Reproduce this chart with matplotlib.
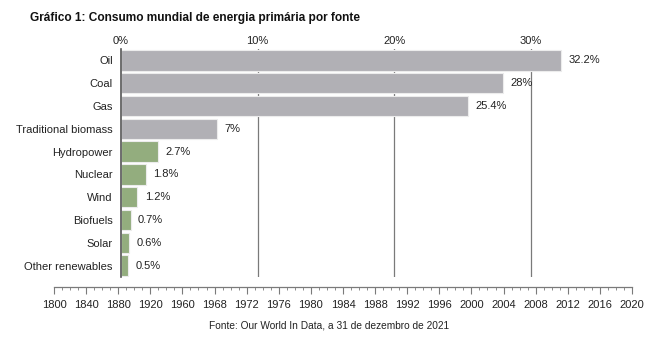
import numpy as np
import matplotlib
matplotlib.use("Agg")
import matplotlib.pyplot as plt

plt.rcParams['font.family'] = ['Liberation Sans', 'DejaVu Sans']

# share of world primary energy, %
sources = ["Oil", "Coal", "Gas", "Traditional biomass", "Hydropower",
           "Nuclear", "Wind", "Biofuels", "Solar", "Other renewables"]
shares = [32.2, 28, 25.4, 7, 2.7, 1.8, 1.2, 0.7, 0.6, 0.5]
labels = ["32.2%", "28%", "25.4%", "7%", "2.7%", "1.8%", "1.2%", "0.7%", "0.6%", "0.5%"]
renewable = [False, False, False, False, True, True, True, True, True, True]

years = [1800, 1840, 1880, 1920, 1960, 1968, 1972, 1976, 1980, 1984,
         1988, 1992, 1996, 2000, 2004, 2008, 2012, 2016, 2020]

grey = "#b1b0b5"
green = "#93ad7e"
line_col = "#7a7a7a"
fs = 8

fig = plt.figure(figsize=(6.55, 3.41), dpi=100)

ax = fig.add_axes([121/655, 1 - 277/341, 478/655, 228/341])
y = np.arange(len(sources))
cols = [green if r else grey for r in renewable]
ax.barh(y, shares, height=0.9, color=cols, edgecolor="#ececec", linewidth=0.8, zorder=3)
for yi, v, t in zip(y, shares, labels):
    ax.text(v + 0.55, yi, t, va="center", ha="left", fontsize=fs, color="#222222", zorder=4)

ax.set_xlim(0, 35)
ax.set_ylim(len(sources) - 0.5, -0.5)
ax.set_yticks(y)
ax.set_yticklabels(sources, fontsize=fs, color="#222222")
ax.set_xticks([0, 10, 20, 30])
ax.set_xticklabels(["0%", "10%", "20%", "30%"], fontsize=fs, color="#222222")
ax.xaxis.tick_top()
ax.tick_params(axis="both", length=0, pad=2)
ax.tick_params(axis="y", pad=6)
for x in [10, 20, 30]:
    ax.axvline(x, color=line_col, lw=0.9, zorder=1)
for s in ["top", "right", "bottom"]:
    ax.spines[s].set_visible(False)
ax.spines["left"].set_color("#555555")
ax.spines["left"].set_linewidth(1.2)
ax.spines["left"].set_zorder(5)

# year scale under the bars
ax2 = fig.add_axes([54/655, 1 - 287/341, 578/655, 0.001])
ax2.set_xlim(0, len(years) - 1)
ax2.set_xticks(np.arange(len(years)))
ax2.set_xticks(np.arange(0, len(years) - 1, 0.25), minor=True)
ax2.set_xticklabels([str(v) for v in years], fontsize=fs, color="#222222")
ax2.set_yticks([])
ax2.tick_params(axis="x", which="major", length=5, color=line_col, pad=4)
ax2.tick_params(axis="x", which="minor", length=2.5, color=line_col)
for s in ["top", "right", "left"]:
    ax2.spines[s].set_visible(False)
ax2.spines["bottom"].set_color(line_col)
ax2.spines["bottom"].set_linewidth(0.9)

fig.text(30/655, 1 - 18/341, "Gráfico 1: Consumo mundial de energia primária por fonte",
         fontsize=8.6, fontweight="bold", va="center", ha="left", color="#111111")
fig.text(329/655, 1 - 325/341, "Fonte: Our World In Data, a 31 de dezembro de 2021",
         fontsize=7.3, va="center", ha="center", color="#222222")

fig.savefig("out.png", dpi=100)
